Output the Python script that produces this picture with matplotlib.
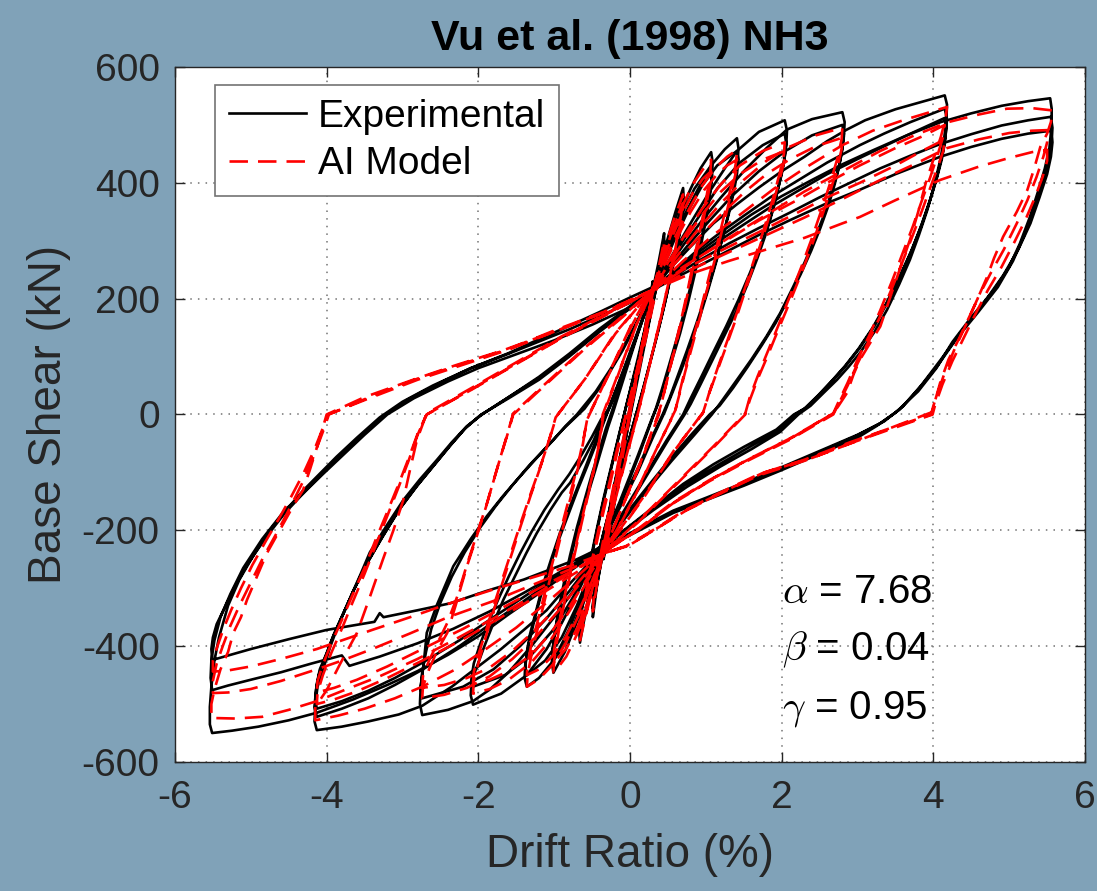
import matplotlib
matplotlib.use("Agg")
import matplotlib.pyplot as plt

# drift ratio (%), base shear (kN), one list per amplitude level
EXP_L1 = [(0.0, 0), (0.08, 60), (0.16, 120), (0.23, 175), (0.3, 230), (0.29, 210), (0.25, 180), (0.18, 130),
          (0.1, 72), (0.02, 15), (-0.06, -45), (-0.14, -105), (-0.22, -165), (-0.29, -215), (-0.35, -250),
          (-0.34, -230), (-0.3, -198), (-0.23, -150), (-0.15, -95), (-0.06, -35), (0.03, 25), (0.12, 90),
          (0.2, 145), (0.3, 215), (0.29, 200), (0.24, 165), (0.17, 118), (0.09, 62), (0.01, 5), (-0.08, -55),
          (-0.16, -115), (-0.24, -175), (-0.3, -220), (-0.35, -240), (-0.33, -215), (-0.28, -180),
          (-0.2, -128), (-0.12, -75), (-0.03, -15), (0.06, 45), (0.15, 110), (0.23, 165), (0.3, 210)]

EXP_L2 = [(0.3, 215), (0.38, 265), (0.45, 313), (0.45, 295), (0.41, 262), (0.34, 215), (0.25, 160), (0.15, 100),
          (0.05, 35), (-0.05, -30), (-0.16, -100), (-0.27, -175), (-0.37, -245), (-0.44, -300), (-0.49, -350),
          (-0.49, -330), (-0.46, -295), (-0.4, -250), (-0.32, -195), (-0.22, -130), (-0.12, -65), (-0.02, 0),
          (0.1, 75), (0.2, 140), (0.3, 205), (0.38, 255), (0.45, 300), (0.44, 280), (0.38, 240), (0.3, 190),
          (0.2, 125), (0.1, 60), (0.0, -5), (-0.12, -85), (-0.24, -160), (-0.35, -235), (-0.43, -290),
          (-0.49, -335), (-0.48, -312), (-0.43, -275), (-0.36, -225), (-0.27, -165), (-0.17, -100),
          (-0.06, -30), (0.05, 40), (0.17, 115), (0.3, 200)]

EXP_L3 = [(0.3, 215), (0.4, 260), (0.5, 305), (0.6, 350), (0.7, 391), (0.71, 370), (0.69, 345), (0.64, 305),
          (0.57, 260), (0.49, 210), (0.4, 160), (0.3, 108), (0.2, 58), (0.1, 10), (-0.05, -60), (-0.2, -130),
          (-0.35, -205), (-0.45, -260), (-0.55, -320), (-0.62, -365), (-0.66, -394), (-0.67, -375),
          (-0.65, -350), (-0.6, -310), (-0.53, -262), (-0.45, -210), (-0.36, -155), (-0.26, -100),
          (-0.16, -45), (-0.05, 15), (0.1, 95), (0.2, 150), (0.3, 205),
          (0.4, 252), (0.5, 297), (0.6, 340), (0.7, 370), (0.7, 350), (0.67, 322), (0.61, 282), (0.54, 240),
          (0.46, 192), (0.37, 143), (0.27, 92), (0.17, 42), (0.07, -5), (-0.08, -75), (-0.23, -145),
          (-0.37, -215), (-0.47, -270), (-0.57, -330), (-0.66, -375), (-0.66, -355), (-0.63, -328),
          (-0.58, -290), (-0.51, -244), (-0.43, -193), (-0.34, -140), (-0.24, -86), (-0.14, -32),
          (-0.03, 25), (0.12, 100), (0.3, 210)]

EXP_L4 = [(0.3, 215), (0.4, 255), (0.52, 300), (0.65, 345), (0.8, 390), (0.93, 425), (1.07, 453),
          (1.09, 435), (1.08, 410), (1.05, 375), (1.0, 335), (0.93, 288), (0.85, 240), (0.76, 190), (0.66, 140),
          (0.55, 92), (0.45, 50), (0.36, 15), (0.3, -5), (0.12, -70), (-0.12, -150), (-0.4, -232),
          (-0.5, -275), (-0.6, -320), (-0.72, -365), (-0.86, -410), (-1.01, -446),
          (-1.03, -428), (-1.02, -405), (-0.99, -375), (-0.94, -335), (-0.87, -290), (-0.79, -243),
          (-0.7, -195), (-0.6, -148), (-0.5, -102), (-0.4, -60), (-0.32, -25), (-0.24, 5), (-0.08, 70),
          (0.1, 140), (0.3, 215),
          (0.4, 250), (0.53, 295), (0.68, 345), (0.85, 390), (1.07, 430),
          (1.08, 412), (1.06, 388), (1.02, 355), (0.96, 315), (0.88, 270), (0.8, 222), (0.71, 175),
          (0.61, 128), (0.51, 83), (0.42, 43), (0.34, 10), (0.28, -10), (0.1, -72), (-0.14, -152), (-0.4, -230),
          (-0.5, -272), (-0.62, -320), (-0.76, -370), (-0.9, -405), (-1.01, -425),
          (-1.02, -408), (-1.0, -385), (-0.96, -355), (-0.9, -318), (-0.83, -275), (-0.75, -230),
          (-0.66, -185), (-0.56, -140), (-0.46, -97), (-0.37, -57), (-0.29, -22), (-0.22, 5), (-0.06, 72),
          (0.11, 142), (0.3, 215)]

EXP_L5 = [(0.3, 215), (0.42, 255), (0.56, 300), (0.72, 345), (0.9, 390), (1.07, 430), (1.25, 458), (1.41, 477),
          (1.43, 460), (1.42, 435), (1.38, 400), (1.32, 360), (1.24, 315), (1.14, 265), (1.03, 215),
          (0.92, 168), (0.8, 122), (0.68, 78), (0.56, 38), (0.46, 5), (0.3, -40), (0.1, -100), (-0.15, -165),
          (-0.4, -232), (-0.52, -275), (-0.65, -320), (-0.8, -370), (-1.01, -425), (-1.2, -455), (-1.36, -470),
          (-1.39, -455), (-1.38, -430), (-1.34, -400), (-1.27, -360), (-1.18, -315), (-1.07, -268),
          (-0.95, -220), (-0.82, -175), (-0.69, -130), (-0.56, -88), (-0.44, -48), (-0.35, -15),
          (-0.25, 20), (-0.05, 90), (0.12, 150), (0.3, 215),
          (0.42, 250), (0.58, 300), (0.76, 350), (0.95, 395), (1.15, 430), (1.41, 455),
          (1.43, 440), (1.41, 415), (1.37, 385), (1.3, 345), (1.21, 300), (1.1, 250), (0.99, 202),
          (0.87, 155), (0.75, 110), (0.63, 67), (0.52, 28), (0.43, 0), (0.28, -42), (0.07, -102),
          (-0.17, -166), (-0.4, -230), (-0.55, -280), (-0.7, -330), (-0.9, -385), (-1.12, -425), (-1.36, -450),
          (-1.38, -435), (-1.36, -410), (-1.32, -380), (-1.24, -340), (-1.15, -295), (-1.04, -250),
          (-0.92, -203), (-0.79, -158), (-0.66, -115), (-0.54, -75), (-0.43, -38), (-0.33, -5),
          (-0.22, 25), (-0.03, 92), (0.13, 150), (0.3, 215)]

EXP_L6 = [(0.3, 215), (0.45, 250), (0.62, 290), (0.82, 335), (1.05, 385), (1.25, 425), (1.41, 455), (1.7, 488),
          (2.04, 508), (2.07, 490), (2.06, 465), (2.03, 435), (1.97, 400), (1.9, 360), (1.8, 315), (1.68, 270),
          (1.54, 222), (1.4, 178), (1.24, 135), (1.08, 92), (0.93, 52), (0.8, 18), (0.72, 0), (0.5, -45),
          (0.2, -110), (-0.1, -175), (-0.4, -232), (-0.55, -270), (-0.72, -315), (-0.9, -360), (-1.1, -405),
          (-1.36, -450), (-1.7, -482), (-2.07, -501), (-2.1, -485), (-2.09, -460), (-2.02, -436),
          (-1.92, -400), (-1.8, -360), (-1.67, -320), (-1.52, -280), (-1.37, -240), (-1.23, -205),
          (-1.05, -165), (-0.9, -135), (-0.79, -118), (-0.62, -80), (-0.48, -45), (-0.38, -15), (-0.3, 5),
          (-0.1, 70), (0.1, 140), (0.3, 215),
          (0.45, 245), (0.65, 290), (0.9, 340), (1.15, 390), (1.45, 435), (1.75, 465), (2.04, 485),
          (2.06, 468), (2.04, 445), (2.0, 415), (1.93, 378), (1.84, 335), (1.72, 290), (1.58, 244),
          (1.43, 198), (1.27, 153), (1.1, 108), (0.94, 65), (0.8, 28), (0.7, 0), (0.48, -45), (0.18, -110),
          (-0.12, -175), (-0.4, -230), (-0.55, -265), (-0.75, -315), (-1.0, -370), (-1.3, -415),
          (-1.65, -450), (-2.07, -470), (-2.09, -455), (-2.06, -430), (-1.98, -398), (-1.87, -360),
          (-1.74, -320), (-1.6, -280), (-1.45, -240), (-1.3, -203), (-1.13, -165), (-0.95, -130),
          (-0.8, -103), (-0.64, -70), (-0.5, -38), (-0.38, -8), (-0.28, 10), (-0.1, 70), (0.1, 140), (0.3, 215)]

EXP_L7 = [(0.3, 215), (0.5, 255), (0.7, 292), (0.95, 335), (1.2, 375), (1.5, 420), (1.8, 460), (2.07, 492),
          (2.4, 510), (2.8, 522), (2.83, 505), (2.82, 480), (2.79, 450), (2.74, 420), (2.66, 385), (2.56, 345),
          (2.44, 305), (2.3, 262), (2.15, 220), (1.98, 175), (1.8, 135), (1.6, 95), (1.4, 58), (1.22, 25),
          (1.08, 0), (0.85, -35), (0.55, -80), (0.2, -135), (-0.1, -185), (-0.4, -232),
          (-0.55, -265), (-0.75, -305), (-1.0, -350), (-1.3, -400), (-1.6, -445), (-1.85, -475),
          (-2.07, -495), (-2.4, -510), (-2.74, -519), (-2.77, -500), (-2.76, -470), (-2.72, -430),
          (-2.68, -377), (-2.55, -330), (-2.42, -290), (-2.33, -262), (-2.1, -215), (-1.89, -176),
          (-1.67, -140), (-1.45, -107), (-1.23, -75), (-1.01, -44), (-0.85, -20), (-0.7, 0), (-0.45, 40),
          (-0.2, 90), (0.05, 150), (0.3, 215),
          (0.5, 250), (0.75, 290), (1.05, 335), (1.35, 378), (1.7, 420), (2.05, 455), (2.4, 482), (2.8, 500),
          (2.82, 485), (2.8, 460), (2.76, 430), (2.7, 398), (2.62, 362), (2.51, 322), (2.39, 283), (2.25, 242),
          (2.09, 200), (1.92, 158), (1.74, 120), (1.55, 82), (1.36, 46), (1.18, 15), (1.05, 0), (0.82, -33),
          (0.52, -78), (0.18, -133), (-0.12, -183), (-0.4, -230), (-0.55, -262), (-0.8, -305),
          (-1.1, -352), (-1.45, -400), (-1.8, -440), (-2.2, -470), (-2.74, -490), (-2.76, -472),
          (-2.74, -445), (-2.69, -410), (-2.62, -370), (-2.5, -325), (-2.35, -280), (-2.18, -238),
          (-1.98, -196), (-1.77, -158), (-1.55, -122), (-1.33, -88), (-1.1, -56), (-0.88, -25),
          (-0.72, -5), (-0.6, 10), (-0.35, 55), (-0.1, 110), (0.1, 160), (0.3, 215)]

EXP_L8 = [(0.3, 215), (0.55, 255), (0.8, 290), (1.1, 330), (1.4, 362), (1.7, 392), (2.0, 420), (2.3, 445),
          (2.6, 472), (2.86, 492), (3.1, 508), (3.5, 527), (3.85, 540), (4.15, 551),
          (4.18, 535), (4.17, 505), (4.14, 475), (4.09, 439), (4.01, 395), (3.92, 353), (3.81, 310),
          (3.69, 267), (3.55, 225), (3.39, 181), (3.22, 142), (3.03, 106), (2.88, 82), (2.73, 60),
          (2.55, 37), (2.38, 15), (2.22, 0), (1.98, -30), (1.6, -60), (1.19, -90), (0.75, -125),
          (0.31, -165), (-0.05, -200), (-0.4, -232),
          (-0.6, -265), (-0.85, -300), (-1.1, -338), (-1.4, -372), (-1.7, -405), (-2.0, -435),
          (-2.35, -470), (-2.74, -503), (-3.05, -518), (-3.45, -530), (-3.8, -539), (-4.13, -545),
          (-4.16, -530), (-4.15, -500), (-4.12, -470), (-4.06, -445), (-3.95, -400), (-3.85, -365),
          (-3.7, -320), (-3.55, -275), (-3.43, -238), (-3.2, -190), (-2.99, -148), (-2.77, -112),
          (-2.55, -79), (-2.35, -48), (-2.15, -20), (-1.95, 0), (-1.6, 30), (-1.2, 65), (-0.8, 105),
          (-0.4, 148), (0.0, 187), (0.3, 215),
          (0.6, 250), (0.9, 285), (1.2, 315), (1.5, 343), (1.85, 375), (2.2, 403), (2.6, 435), (3.03, 465),
          (3.35, 485), (3.7, 505), (4.15, 528),
          (4.18, 510), (4.16, 480), (4.12, 450), (4.05, 412), (3.96, 372), (3.85, 330), (3.72, 285),
          (3.57, 240), (3.4, 195), (3.22, 152), (3.03, 115), (2.85, 85), (2.68, 60), (2.5, 35), (2.32, 12),
          (2.18, 0), (1.95, -28), (1.55, -58), (1.15, -88), (0.72, -122), (0.31, -162), (-0.05, -198),
          (-0.4, -230), (-0.7, -258), (-1.0, -285), (-1.4, -322), (-1.8, -358), (-2.25, -400),
          (-2.73, -440), (-3.1, -467), (-3.45, -490), (-3.8, -508), (-4.13, -522),
          (-4.16, -505), (-4.14, -475), (-4.1, -448), (-4.02, -420), (-3.92, -385), (-3.8, -350),
          (-3.65, -305), (-3.48, -260), (-3.28, -215), (-3.05, -165), (-2.82, -125), (-2.6, -90),
          (-2.38, -55), (-2.18, -25), (-1.98, -2), (-1.6, 30), (-1.2, 63), (-0.8, 102), (-0.4, 145),
          (0.0, 185), (0.3, 215),
          (0.6, 245), (0.9, 275), (1.2, 302), (1.5, 328), (1.85, 358), (2.2, 385), (2.6, 415), (3.03, 443),
          (3.35, 463), (3.7, 485), (4.15, 512),
          (4.17, 495), (4.15, 468), (4.11, 440), (4.04, 405), (3.95, 367), (3.84, 325), (3.7, 280),
          (3.55, 237), (3.38, 192), (3.2, 150), (3.01, 113), (2.83, 83), (2.66, 58), (2.48, 33), (2.3, 10),
          (2.16, 0), (1.93, -26), (1.5, -56), (1.1, -86), (0.7, -120), (0.31, -160), (-0.05, -197),
          (-0.4, -229), (-0.7, -255), (-1.0, -280), (-1.4, -315), (-1.8, -350), (-2.25, -390),
          (-2.73, -428), (-3.1, -455), (-3.45, -477), (-3.8, -495), (-4.13, -508),
          (-4.15, -492), (-4.13, -465), (-4.09, -440), (-4.0, -412), (-3.9, -378), (-3.78, -343),
          (-3.63, -300), (-3.46, -255), (-3.26, -210), (-3.03, -162), (-2.8, -122), (-2.58, -87),
          (-2.36, -52), (-2.16, -22), (-1.96, 0), (-1.6, 28), (-1.2, 60), (-0.8, 100), (-0.4, 143),
          (0.0, 183), (0.3, 215)]

EXP_L9 = [(0.3, 215), (0.6, 248), (0.9, 280), (1.25, 313), (1.6, 345), (2.0, 377), (2.4, 405), (2.8, 432),
          (3.2, 456), (3.65, 482), (4.1, 505), (4.5, 520), (4.9, 533), (5.25, 541), (5.54, 546),
          (5.56, 528), (5.56, 500), (5.53, 460), (5.47, 425), (5.38, 385), (5.27, 340), (5.14, 295),
          (5.0, 255), (4.8, 215), (4.5, 168), (4.25, 125), (4.04, 80), (3.8, 40), (3.5, 3), (3.25, -20),
          (3.0, -40), (2.5, -68), (2.0, -96), (1.5, -123), (1.0, -148), (0.57, -170), (0.2, -195),
          (-0.13, -217), (-0.4, -233),
          (-0.7, -262), (-1.0, -290), (-1.3, -318), (-1.6, -345), (-2.0, -383), (-2.4, -415), (-2.8, -443),
          (-3.2, -467), (-3.65, -492), (-4.13, -515), (-4.5, -528), (-4.9, -539), (-5.25, -546),
          (-5.51, -550), (-5.54, -535), (-5.54, -505), (-5.52, -470), (-5.48, -425), (-5.42, -385),
          (-5.3, -330), (-5.15, -285), (-4.95, -240), (-4.75, -200), (-4.5, -160), (-4.3, -130),
          (-4.05, -97), (-3.87, -73), (-3.6, -40), (-3.3, -5), (-3.0, 22), (-2.6, 50), (-2.1, 80),
          (-1.6, 106), (-1.2, 130), (-0.8, 153), (-0.4, 177), (0.0, 202), (0.3, 220),
          (0.6, 240), (0.9, 265), (1.3, 295), (1.7, 322), (2.1, 348), (2.5, 375), (2.9, 400), (3.3, 425),
          (3.7, 447), (4.09, 467), (4.5, 484), (4.9, 499), (5.25, 508), (5.55, 514),
          (5.57, 495), (5.56, 470), (5.52, 440), (5.44, 400), (5.33, 355), (5.2, 310), (5.05, 265),
          (4.85, 220), (4.58, 175), (4.3, 130), (4.06, 85), (3.8, 43), (3.55, 8), (3.3, -15), (3.0, -36),
          (2.5, -65), (2.0, -93), (1.5, -120), (1.0, -146), (0.57, -168), (0.2, -193), (-0.13, -215),
          (-0.4, -232), (-0.7, -255), (-1.0, -278), (-1.4, -308), (-1.85, -340), (-2.33, -370),
          (-2.8, -395), (-3.3, -418), (-3.7, -434), (-3.8, -416), (-4.2, -430), (-4.6, -445), (-5.0, -458),
          (-5.3, -468), (-5.51, -476), (-5.53, -455), (-5.52, -425), (-5.48, -390), (-5.4, -350),
          (-5.27, -310), (-5.1, -265), (-4.85, -215), (-4.55, -165), (-4.3, -135), (-4.05, -100),
          (-3.85, -75), (-3.55, -38), (-3.25, -2), (-2.9, 28), (-2.5, 55), (-2.1, 80), (-1.6, 105),
          (-1.2, 126), (-0.8, 147), (-0.4, 170), (0.0, 193), (0.3, 215),
          (0.6, 236), (0.9, 256), (1.3, 283), (1.7, 310), (2.1, 335), (2.6, 365), (3.03, 388), (3.5, 415),
          (4.09, 445), (4.5, 462), (4.9, 476), (5.25, 485), (5.55, 490),
          (5.57, 470), (5.55, 445), (5.5, 415), (5.4, 375), (5.28, 330), (5.12, 285), (4.92, 240),
          (4.65, 190), (4.38, 145), (4.1, 95), (3.85, 52), (3.6, 14), (3.35, -12), (3.0, -35), (2.5, -63),
          (2.0, -91), (1.5, -118), (1.0, -144), (0.57, -166), (0.2, -191), (-0.13, -214), (-0.4, -231),
          (-0.7, -250), (-1.0, -265), (-1.4, -285), (-1.9, -305), (-2.37, -326), (-2.8, -338),
          (-3.25, -350), (-3.3, -343), (-3.37, -358), (-4.0, -372), (-4.5, -388), (-5.0, -405),
          (-5.51, -424), (-5.52, -405), (-5.5, -385), (-5.45, -362), (-5.35, -335), (-5.22, -300),
          (-5.05, -260), (-4.8, -212), (-4.55, -170), (-4.3, -135), (-4.05, -103), (-3.8, -72),
          (-3.5, -35), (-3.2, 0), (-2.85, 28), (-2.4, 57), (-2.0, 80), (-1.5, 104), (-1.0, 128),
          (-0.5, 155), (0.0, 185), (0.3, 210)]

MOD_L1 = [(0.0, 0), (0.1, 75), (0.2, 150), (0.3, 220), (0.28, 195), (0.23, 160), (0.15, 105), (0.07, 48),
          (-0.02, -15), (-0.1, -75), (-0.19, -140), (-0.28, -205), (-0.35, -245), (-0.33, -220),
          (-0.28, -185), (-0.2, -130), (-0.11, -68), (-0.02, -5), (0.08, 62), (0.18, 130), (0.3, 210)]

MOD_L2 = [(0.3, 210), (0.38, 255), (0.45, 300), (0.44, 280), (0.4, 250), (0.33, 205), (0.24, 150), (0.14, 90),
          (0.04, 28), (-0.07, -40), (-0.18, -110), (-0.28, -180), (-0.38, -255), (-0.45, -305),
          (-0.49, -340), (-0.48, -318), (-0.44, -282), (-0.38, -236), (-0.3, -180), (-0.21, -118),
          (-0.11, -55), (-0.01, 8), (0.11, 82), (0.22, 150), (0.3, 200)]

MOD_L3 = [(0.3, 215), (0.4, 260), (0.5, 305), (0.6, 345), (0.7, 380), (0.69, 360), (0.65, 325), (0.59, 280),
          (0.51, 230), (0.42, 175), (0.32, 120), (0.22, 65), (0.12, 10), (-0.05, -75), (-0.2, -150),
          (-0.35, -230), (-0.45, -280), (-0.55, -330), (-0.62, -368), (-0.66, -390), (-0.65, -370),
          (-0.61, -335), (-0.55, -290), (-0.47, -240), (-0.38, -185), (-0.28, -130), (-0.18, -72),
          (-0.08, -15), (0.08, 70), (0.2, 145), (0.3, 210), (0.4, 252), (0.5, 295), (0.6, 335), (0.7, 365),
          (0.69, 345), (0.64, 310), (0.57, 266), (0.49, 217), (0.4, 163), (0.3, 108), (0.2, 53), (0.1, 0),
          (-0.07, -82), (-0.22, -157), (-0.37, -235), (-0.47, -288), (-0.57, -338), (-0.66, -375),
          (-0.65, -355), (-0.6, -320), (-0.54, -276), (-0.46, -226), (-0.37, -172), (-0.27, -117),
          (-0.17, -60), (-0.06, -5), (0.1, 80), (0.3, 210)]

MOD_L4 = [(0.3, 215), (0.42, 265), (0.55, 315), (0.69, 360), (0.83, 398), (0.96, 423), (1.07, 440),
          (1.06, 420), (1.03, 392), (0.98, 355), (0.91, 310), (0.83, 260), (0.75, 208), (0.66, 155),
          (0.57, 105), (0.49, 60), (0.42, 22), (0.38, 0), (0.15, -80), (-0.1, -160), (-0.35, -238),
          (-0.45, -285), (-0.57, -335), (-0.7, -380), (-0.84, -418), (-0.95, -437), (-1.01, -445),
          (-1.0, -425), (-0.97, -397), (-0.92, -360), (-0.85, -315), (-0.77, -265), (-0.68, -212),
          (-0.59, -160), (-0.5, -110), (-0.43, -65), (-0.38, -25), (-0.36, 0), (-0.1, 90), (0.1, 160),
          (0.3, 215), (0.42, 260), (0.55, 305), (0.69, 348), (0.83, 383), (0.96, 407), (1.07, 420),
          (1.06, 400), (1.02, 372), (0.97, 337), (0.9, 294), (0.82, 246), (0.74, 196), (0.65, 145),
          (0.56, 97), (0.48, 54), (0.41, 17), (0.37, 0), (0.14, -82), (-0.11, -162), (-0.35, -238),
          (-0.45, -282), (-0.57, -328), (-0.7, -370), (-0.84, -404), (-0.95, -420), (-1.01, -425),
          (-1.0, -405), (-0.96, -378), (-0.91, -343), (-0.84, -300), (-0.76, -252), (-0.67, -201),
          (-0.58, -150), (-0.49, -102), (-0.42, -59), (-0.37, -20), (-0.35, 0), (-0.09, 92), (0.1, 160),
          (0.3, 215)]

MOD_L5 = [(0.3, 215), (0.45, 262), (0.6, 308), (0.78, 355), (0.95, 395), (1.12, 425), (1.28, 445), (1.41, 457),
          (1.4, 437), (1.36, 410), (1.3, 375), (1.22, 332), (1.13, 283), (1.03, 232), (0.93, 180),
          (0.83, 130), (0.74, 85), (0.66, 42), (0.6, 8), (0.35, -60), (0.05, -145), (-0.15, -195),
          (-0.35, -238), (-0.5, -290), (-0.67, -345), (-0.85, -395), (-1.02, -432), (-1.2, -457),
          (-1.36, -470), (-1.35, -450), (-1.31, -422), (-1.25, -387), (-1.17, -345), (-1.08, -297),
          (-0.98, -246), (-0.88, -193), (-0.78, -142), (-0.69, -95), (-0.62, -50), (-0.57, -10),
          (-0.3, 65), (0.0, 150), (0.15, 185), (0.3, 215),
          (0.45, 258), (0.62, 305), (0.8, 350), (0.98, 388), (1.15, 415), (1.28, 430), (1.41, 440),
          (1.4, 420), (1.35, 393), (1.29, 358), (1.21, 316), (1.12, 268), (1.02, 218), (0.92, 167),
          (0.82, 118), (0.73, 75), (0.65, 34), (0.59, 4), (0.34, -62), (0.04, -146), (-0.16, -196),
          (-0.35, -238), (-0.5, -287), (-0.67, -338), (-0.85, -385), (-1.03, -418), (-1.2, -440),
          (-1.36, -450), (-1.35, -430), (-1.31, -403), (-1.24, -368), (-1.16, -327), (-1.07, -280),
          (-0.97, -230), (-0.87, -178), (-0.77, -128), (-0.68, -83), (-0.61, -40), (-0.56, -5),
          (-0.29, 66), (0.01, 150), (0.15, 185), (0.3, 215)]

MOD_L6 = [(0.3, 215), (0.5, 262), (0.7, 305), (0.95, 355), (1.2, 398), (1.45, 430), (1.75, 455), (2.04, 470),
          (2.03, 450), (1.98, 420), (1.9, 380), (1.8, 335), (1.68, 285), (1.55, 232), (1.42, 180),
          (1.29, 130), (1.16, 82), (1.05, 40), (0.97, 5), (0.6, -60), (0.2, -140), (-0.1, -195),
          (-0.35, -238), (-0.55, -285), (-0.8, -340), (-1.05, -390), (-1.3, -428), (-1.6, -458),
          (-1.85, -474), (-2.07, -482), (-2.06, -460), (-2.0, -430), (-1.92, -392), (-1.82, -348),
          (-1.7, -298), (-1.57, -245), (-1.44, -192), (-1.31, -140), (-1.18, -90), (-1.07, -45),
          (-0.98, -5), (-0.6, 60), (-0.2, 140), (0.1, 185), (0.3, 215),
          (0.5, 258), (0.7, 298), (0.95, 345), (1.2, 385), (1.45, 415), (1.75, 440), (2.04, 455),
          (2.03, 435), (1.97, 405), (1.89, 366), (1.79, 322), (1.67, 273), (1.54, 222), (1.41, 170),
          (1.28, 122), (1.15, 75), (1.04, 35), (0.96, 2), (0.58, -62), (0.18, -142), (-0.12, -196),
          (-0.35, -238), (-0.55, -280), (-0.8, -332), (-1.05, -378), (-1.3, -415), (-1.6, -443),
          (-1.85, -458), (-2.07, -465), (-2.06, -445), (-2.0, -415), (-1.91, -378), (-1.81, -335),
          (-1.69, -287), (-1.56, -235), (-1.43, -183), (-1.3, -133), (-1.17, -85), (-1.06, -42),
          (-0.97, -3), (-0.59, 62), (-0.19, 140), (0.1, 185), (0.3, 215)]

MOD_L7 = [(0.3, 215), (0.6, 270), (0.9, 320), (1.2, 365), (1.5, 405), (1.8, 438), (2.1, 462), (2.45, 482),
          (2.8, 495), (2.79, 475), (2.73, 440), (2.64, 400), (2.53, 355), (2.4, 305), (2.26, 255),
          (2.11, 205), (1.96, 155), (1.82, 110), (1.68, 65), (1.58, 30), (1.52, 2), (1.1, -55), (0.6, -120),
          (0.1, -185), (-0.35, -238), (-0.65, -290), (-0.95, -340), (-1.25, -385), (-1.55, -422),
          (-1.85, -452), (-2.15, -472), (-2.45, -484), (-2.74, -490), (-2.73, -470), (-2.65, -440),
          (-2.55, -410), (-2.41, -377), (-2.3, -330), (-2.15, -262), (-2.02, -210), (-1.9, -160),
          (-1.8, -115), (-1.7, -70), (-1.62, -35), (-1.54, 2), (-1.1, 55), (-0.6, 115), (-0.1, 170),
          (0.3, 215),
          (0.6, 262), (0.9, 305), (1.2, 345), (1.5, 383), (1.8, 415), (2.1, 440), (2.45, 463), (2.8, 478),
          (2.79, 458), (2.73, 425), (2.64, 385), (2.53, 342), (2.4, 293), (2.26, 244), (2.11, 195),
          (1.96, 148), (1.82, 103), (1.68, 60), (1.58, 25), (1.52, 0), (1.1, -57), (0.6, -122),
          (0.1, -187), (-0.35, -238), (-0.65, -285), (-0.95, -330), (-1.25, -372), (-1.55, -408),
          (-1.85, -437), (-2.15, -455), (-2.45, -467), (-2.74, -472), (-2.73, -452), (-2.65, -425),
          (-2.54, -395), (-2.41, -360), (-2.28, -315), (-2.14, -255), (-2.01, -203), (-1.89, -155),
          (-1.79, -110), (-1.69, -66), (-1.61, -32), (-1.54, 0), (-1.1, 53), (-0.6, 113), (-0.1, 168),
          (0.3, 215)]

MOD_L8 = [(0.3, 215), (0.7, 265), (1.1, 310), (1.5, 350), (1.9, 390), (2.3, 425), (2.8, 465), (3.2, 490),
          (3.6, 508), (3.9, 520), (4.18, 531), (4.16, 510), (4.1, 480), (4.0, 440), (3.9, 400), (3.8, 350),
          (3.7, 305), (3.6, 267), (3.45, 210), (3.3, 152), (3.15, 120), (3.03, 94), (2.95, 70), (2.86, 37),
          (2.75, 15), (2.68, 2), (2.15, -39), (1.6, -75), (1.1, -110), (0.6, -150), (0.15, -195),
          (-0.35, -238), (-0.7, -280), (-1.1, -325), (-1.5, -368), (-1.9, -405), (-2.3, -440),
          (-2.74, -470), (-3.1, -490), (-3.5, -508), (-3.85, -520), (-4.15, -528), (-4.15, -505),
          (-4.0, -476), (-3.82, -430), (-3.6, -377), (-3.43, -315), (-3.26, -251), (-3.12, -200),
          (-2.99, -148), (-2.9, -95), (-2.81, -44), (-2.68, 2), (-2.1, 45), (-1.5, 90), (-0.9, 135),
          (-0.3, 175), (0.3, 215),
          (0.7, 255), (1.2, 295), (1.7, 335), (2.2, 370), (2.6, 400), (3.03, 430), (3.5, 460), (3.85, 480),
          (4.15, 500), (4.13, 480), (4.06, 450), (3.96, 410), (3.85, 370), (3.73, 325), (3.6, 280),
          (3.46, 232), (3.3, 180), (3.15, 135), (3.0, 95), (2.87, 55), (2.75, 22), (2.68, 2), (2.1, -42),
          (1.55, -78), (1.05, -113), (0.55, -153), (0.1, -198), (-0.35, -238), (-0.7, -272),
          (-1.2, -312), (-1.7, -350), (-2.2, -388), (-2.74, -425), (-3.2, -455), (-3.6, -478),
          (-3.9, -492), (-4.13, -500), (-4.12, -480), (-4.05, -450), (-3.94, -412), (-3.8, -370),
          (-3.66, -325), (-3.5, -275), (-3.35, -225), (-3.2, -175), (-3.05, -125), (-2.92, -80),
          (-2.8, -35), (-2.7, -5), (-2.68, 0), (-2.1, 43), (-1.5, 88), (-0.9, 133), (-0.3, 174),
          (0.3, 215),
          (0.7, 250), (1.2, 283), (1.7, 315), (2.2, 348), (2.6, 375), (3.03, 400), (3.5, 430), (3.85, 455),
          (4.15, 475), (4.13, 455), (4.06, 428), (3.96, 392), (3.85, 352), (3.73, 310), (3.6, 266),
          (3.46, 220), (3.3, 170), (3.15, 127), (3.0, 88), (2.87, 50), (2.75, 18), (2.68, 0), (2.1, -44),
          (1.55, -80), (1.05, -115), (0.55, -155), (0.1, -200), (-0.35, -238), (-0.7, -266),
          (-1.2, -300), (-1.7, -335), (-2.2, -370), (-2.74, -405), (-3.2, -435), (-3.6, -458),
          (-3.9, -472), (-4.13, -480), (-4.12, -460), (-4.05, -432), (-3.94, -396), (-3.8, -355),
          (-3.66, -312), (-3.5, -265), (-3.35, -215), (-3.2, -168), (-3.05, -120), (-2.92, -76),
          (-2.8, -33), (-2.7, -5), (-2.68, 0), (-2.1, 42), (-1.5, 87), (-0.9, 132), (-0.3, 173),
          (0.3, 215)]

MOD_L9 = [(0.3, 215), (0.8, 262), (1.3, 305), (1.8, 345), (2.3, 385), (2.8, 420), (3.3, 455), (3.75, 482),
          (4.2, 505), (4.6, 518), (4.97, 528), (5.3, 529), (5.57, 525), (5.55, 505), (5.5, 485),
          (5.41, 462), (5.33, 425), (5.24, 388), (5.1, 350), (4.92, 307), (4.8, 270), (4.71, 238),
          (4.55, 190), (4.35, 134), (4.2, 95), (4.09, 55), (3.98, 4), (3.5, -20), (3.03, -44), (2.4, -75),
          (1.75, -101), (1.25, -132), (0.75, -165), (0.35, -197), (0.0, -225), (-0.35, -240),
          (-0.8, -275), (-1.3, -315), (-1.8, -352), (-2.3, -388), (-2.8, -422), (-3.3, -452),
          (-3.75, -475), (-4.13, -495), (-4.5, -510), (-4.85, -522), (-5.2, -525), (-5.52, -524),
          (-5.52, -500), (-5.48, -475), (-5.4, -440), (-5.3, -410), (-5.23, -377), (-5.13, -350),
          (-5.05, -320), (-4.92, -280), (-4.79, -240), (-4.62, -200), (-4.45, -160), (-4.31, -130),
          (-4.22, -95), (-4.1, -45), (-4.0, 0), (-3.5, 30), (-2.86, 60), (-2.3, 85), (-1.67, 111),
          (-1.0, 143), (-0.36, 175), (0.3, 215),
          (0.8, 250), (1.3, 280), (1.8, 310), (2.3, 340), (2.8, 372), (3.3, 405), (3.75, 432), (4.18, 460),
          (4.6, 475), (5.0, 486), (5.3, 490), (5.5, 491), (5.5, 470), (5.45, 445), (5.36, 410), (5.24, 370),
          (5.1, 330), (4.93, 285), (4.76, 245), (4.6, 205), (4.43, 155), (4.27, 110), (4.13, 65), (4.0, 15),
          (3.97, 0), (3.4, -25), (2.9, -48), (2.3, -78), (1.7, -103), (1.2, -134), (0.7, -167), (0.3, -200),
          (-0.05, -227), (-0.35, -240), (-0.8, -268), (-1.3, -295), (-1.8, -322), (-2.4, -350),
          (-2.9, -378), (-3.4, -405), (-3.8, -425), (-4.13, -440), (-4.6, -460), (-5.0, -474),
          (-5.3, -480), (-5.5, -481), (-5.5, -460), (-5.45, -430), (-5.37, -400), (-5.27, -365),
          (-5.15, -330), (-5.0, -290), (-4.83, -245), (-4.66, -205), (-4.48, -160), (-4.32, -118),
          (-4.18, -75), (-4.05, -30), (-3.97, 0), (-3.4, 32), (-2.8, 62), (-2.2, 88), (-1.6, 113),
          (-1.0, 145), (-0.35, 177), (0.3, 215),
          (0.8, 243), (1.3, 265), (1.8, 285), (2.3, 305), (2.8, 330), (3.03, 341), (3.5, 370), (4.09, 405),
          (4.6, 428), (5.0, 443), (5.3, 453), (5.5, 457), (5.5, 438), (5.44, 410), (5.34, 375), (5.22, 338),
          (5.07, 298), (4.9, 255), (4.72, 215), (4.56, 175), (4.4, 132), (4.25, 92), (4.12, 52), (4.02, 15),
          (3.99, 0), (3.4, -27), (2.9, -50), (2.3, -80), (1.7, -105), (1.2, -136), (0.7, -168), (0.3, -201),
          (-0.05, -228), (-0.35, -240), (-0.8, -262), (-1.3, -282), (-1.8, -302), (-2.4, -327),
          (-2.9, -350), (-3.4, -372), (-3.8, -390), (-4.13, -405), (-4.6, -422), (-5.0, -435),
          (-5.3, -442), (-5.5, -444), (-5.5, -425), (-5.44, -400), (-5.36, -370), (-5.26, -338),
          (-5.13, -300), (-4.98, -260), (-4.8, -218), (-4.63, -180), (-4.46, -140), (-4.3, -100),
          (-4.16, -60), (-4.04, -20), (-3.98, 0), (-3.4, 30), (-2.8, 60), (-2.2, 86), (-1.6, 112),
          (-1.0, 143), (-0.35, 176), (0.3, 215)]

EXP_LEVELS = [EXP_L1, EXP_L2, EXP_L3, EXP_L4, EXP_L5, EXP_L6, EXP_L7, EXP_L8, EXP_L9]
MOD_LEVELS = [MOD_L1, MOD_L2, MOD_L3, MOD_L4, MOD_L5, MOD_L6, MOD_L7, MOD_L8, MOD_L9]

PARAMS = [(r'$\alpha$', '7.68'), (r'$\beta$', '0.04'), (r'$\gamma$', '0.95')]

BG = '#80a2b8'
DARK = '#262626'

plt.rcParams['font.family'] = ['Liberation Sans', 'DejaVu Sans']
plt.rcParams['mathtext.fontset'] = 'cm'
plt.rcParams['axes.unicode_minus'] = False

fig = plt.figure(figsize=(10.97, 8.91), dpi=100, facecolor=BG)
ax = fig.add_axes([0.1595, 0.1448, 0.8296, 0.78])
ax.set_facecolor('white')

for i, pts in enumerate(EXP_LEVELS):
    xs, ys = zip(*pts)
    ax.plot(xs, ys, color='black', lw=1.9, solid_joinstyle='round',
            label='Experimental' if i == 0 else None, zorder=2)

for i, pts in enumerate(MOD_LEVELS):
    xs, ys = zip(*pts)
    ax.plot(xs, ys, color='red', lw=1.9, linestyle=(0, (7, 3.8)),
            label='AI Model' if i == 0 else None, zorder=3)

ax.set_xlim(-6, 6)
ax.set_ylim(-600, 600)
ax.set_xticks(range(-6, 7, 2))
ax.set_yticks(range(-600, 601, 200))
ax.grid(True, color='0.45', linestyle=(0, (1, 4)), lw=1.1)
ax.set_axisbelow(True)
ax.tick_params(direction='in', length=7, width=1, top=True, right=True,
               labelsize=28, colors=DARK)
ax.tick_params(axis='x', pad=13)
ax.tick_params(axis='y', pad=11)
for sp in ax.spines.values():
    sp.set_color(DARK)
    sp.set_linewidth(1)

ax.set_xlabel('Drift Ratio (%)', fontsize=33, color=DARK, labelpad=12)
ax.set_ylabel('Base Shear (kN)', fontsize=33, color=DARK, labelpad=8)
ax.set_title('Vu et al. (1998) NH3', fontsize=31, fontweight='bold', pad=12)

leg = ax.legend(loc='upper left', bbox_to_anchor=(0.044, 0.974), borderaxespad=0,
                fontsize=28, handlelength=2.0, fancybox=False, framealpha=1,
                edgecolor='0.45', borderpad=0.35, labelspacing=0.3, handletextpad=0.3)
leg.get_frame().set_linewidth(1.2)

for k, (sym, val) in enumerate(PARAMS):
    ax.text(2.0, -306 - 101 * k, sym + ' = ' + val, fontsize=29, va='center', ha='left', zorder=4)

fig.savefig('out.png', dpi=100, facecolor=BG)
